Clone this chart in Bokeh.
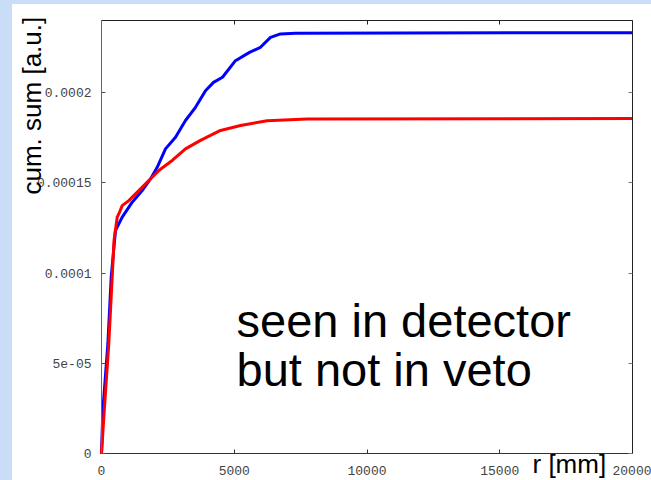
from bokeh.plotting import figure
from bokeh.models import Range1d, FixedTicker, LinearAxis, Label, Spacer
from bokeh.layouts import row, column
from bokeh.embed import file_html
from bokeh.resources import INLINE

# ---- data ----
blue_r = [0, 50, 240, 365, 527, 780, 1156, 1532, 1845, 2098, 2410, 2787, 3163,
          3540, 3917, 4218, 4557, 5046, 5574, 5988, 6365, 6741, 7306, 20000]
blue_v = [0, 2.39e-05, 6.09e-05, 9.77e-05, 1.235e-04, 1.309e-04, 1.392e-04,
          1.456e-04, 1.521e-04, 1.585e-04, 1.687e-04, 1.751e-04, 1.844e-04,
          1.917e-04, 2.009e-04, 2.055e-04, 2.083e-04, 2.175e-04, 2.221e-04,
          2.249e-04, 2.304e-04, 2.323e-04, 2.327e-04, 2.330e-04]
red_r = [0, 87, 275, 403, 471, 591, 652, 780, 1028, 1405, 1781, 2158, 2663,
         3163, 3728, 4482, 5235, 6240, 7747, 20000]
red_v = [0, 2.02e-05, 6.10e-05, 9.77e-05, 1.18e-04, 1.309e-04, 1.327e-04,
         1.373e-04, 1.401e-04, 1.456e-04, 1.512e-04, 1.567e-04, 1.623e-04,
         1.687e-04, 1.734e-04, 1.789e-04, 1.816e-04, 1.843e-04, 1.852e-04,
         1.855e-04]
x_ticks = [0, 5000, 10000, 15000, 20000]
x_tick_labels = ["0", "5000", "10000", "15000", "20000"]
y_ticks = [0, 5e-05, 1e-04, 1.5e-04, 2e-04]
y_tick_labels = ["0", "5e-05", "0.0001", "0.00015", "0.0002"]
x_label = "r [mm]"
y_label = "cum. sum [a.u.]"
note_lines = ["seen in detector", "but not in veto"]
x_max = 20000
y_max = 0.00024

# ---- geometry (window pixels) ----
OX, OY = 12, 4                 # figure origin in the window
W, H = 639, 476                # figure size
BL, BR, BT, BB = 101.0, 632.0, 19.5, 453.3   # plot box in window pixels
PW, PH = BR - BL, BB - BT


def wx(px):
    """window pixel x -> data x (used to place texts)"""
    return (px - BL) / PW * x_max


def wy(py):
    """window pixel y -> data y (used to place texts)"""
    return (BB - py) / PH * y_max


x_range = Range1d(wx(OX), wx(OX + W))
y_range = Range1d(wy(OY + H), wy(OY))

p = figure(width=W, height=H, x_range=x_range, y_range=y_range, title=None,
           output_backend="svg", toolbar_location=None,
           min_border_left=0, min_border_right=0, min_border_top=0,
           min_border_bottom=0)
p.grid.visible = False
p.background_fill_color = "white"
p.border_fill_color = "white"
p.outline_line_color = None

tick_font = "Liberation Mono"
tick_color = "#444444"

xa = p.xaxis[0]
xa.fixed_location = 0
xa.bounds = (0, x_max)
xa.ticker = FixedTicker(ticks=x_ticks, minor_ticks=[])
xa.major_label_overrides = dict(zip(x_ticks, x_tick_labels))
xa.major_tick_in = 4
xa.major_tick_out = 0
xa.major_label_standoff = 12
xa.major_label_text_font = tick_font
xa.major_label_text_font_size = "13px"
xa.major_label_text_color = tick_color
xa.axis_line_color = "#333333"
xa.major_tick_line_color = "#333333"

ya = p.yaxis[0]
ya.fixed_location = 0
ya.bounds = (0, y_max)
ya.ticker = FixedTicker(ticks=y_ticks, minor_ticks=[])
ya.major_label_overrides = dict(zip(y_ticks, y_tick_labels))
ya.major_tick_in = 4
ya.major_tick_out = 0
ya.major_label_standoff = 10
ya.major_label_text_font = tick_font
ya.major_label_text_font_size = "13px"
ya.major_label_text_color = tick_color
ya.axis_line_color = "#666666"
ya.major_tick_line_color = "#555555"

top = LinearAxis(fixed_location=y_max, bounds=(0, x_max),
                 ticker=FixedTicker(ticks=x_ticks, minor_ticks=[]),
                 major_label_overrides={t: "" for t in x_ticks},
                 major_label_text_font_size="1px", major_label_standoff=0,
                 major_tick_in=4, major_tick_out=0, axis_line_color="#222222",
                 major_tick_line_color="#222222")
p.add_layout(top, "above")
right = LinearAxis(fixed_location=x_max, bounds=(0, y_max),
                   ticker=FixedTicker(ticks=y_ticks, minor_ticks=[]),
                   major_label_overrides={t: "" for t in y_ticks},
                   major_label_text_font_size="1px", major_label_standoff=0,
                   major_tick_in=4, major_tick_out=0, axis_line_color="#222222",
                   major_tick_line_color="#777777")
p.add_layout(right, "right")

p.line(blue_r, blue_v, line_color="#0000ff", line_width=3)
p.line(red_r, red_v, line_color="#ff0000", line_width=3)

big_font = "Liberation Sans"
p.add_layout(Label(x=wx(236), y=wy(320), text=note_lines[0], text_font=big_font,
                   text_font_size="47px", text_color="black",
                   text_align="left", text_baseline="alphabetic"))
p.add_layout(Label(x=wx(236), y=wy(369), text=note_lines[1], text_font=big_font,
                   text_font_size="47px", text_color="black",
                   text_align="left", text_baseline="alphabetic"))
p.add_layout(Label(x=wx(532), y=wy(463), text=x_label, text_font=big_font,
                   text_font_size="26px", text_color="black",
                   text_align="left", text_baseline="alphabetic"))
p.add_layout(Label(x=wx(31), y=wy(194), text=y_label, text_font=big_font,
                   text_font_size="26px", text_color="black", angle=1.5707963,
                   text_align="left", text_baseline="alphabetic"))

bg = "#c9def6"
layout = row(Spacer(width=OX, height=OY + H, styles={"background-color": bg}),
             column(Spacer(width=W, height=OY, styles={"background-color": bg}), p))

open("out.html", "w").write(file_html(layout, INLINE))
